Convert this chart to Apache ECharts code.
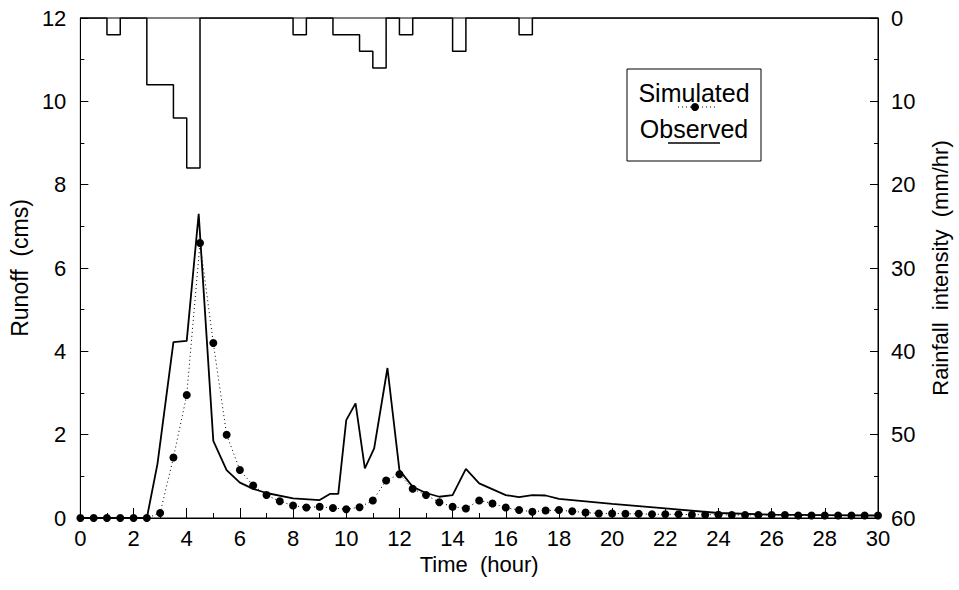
<!DOCTYPE html>
<html>
<head>
<meta charset="utf-8">
<script src="https://cdn.jsdelivr.net/npm/echarts@6/dist/echarts.min.js"></script>
<style>
html,body{margin:0;padding:0;background:#fff;}
#chart{width:959px;height:590px;}
</style>
</head>
<body>
<div id="chart"></div>
<script>
// ---- data ----
var xTicks = [0,2,4,6,8,10,12,14,16,18,20,22,24,26,28,30];
var runoffTicks = [0,2,4,6,8,10,12];
var rainTicks = [0,10,20,30,40,50,60];

// simulated runoff, every 0.5 h
var simTime = [0,0.5,1,1.5,2,2.5,3,3.5,4,4.5,5,5.5,6,6.5,7,7.5,8,8.5,9,9.5,10,10.5,11,11.5,12,12.5,13,13.5,14,14.5,15,15.5,16,16.5,17,17.5,18,18.5,19,19.5,20,20.5,21,21.5,22,22.5,23,23.5,24,24.5,25,25.5,26,26.5,27,27.5,28,28.5,29,29.5,30];
var simRunoff = [0,0,0,0,0,0,0.12,1.45,2.95,6.6,4.2,2.0,1.15,0.78,0.55,0.4,0.3,0.25,0.27,0.24,0.21,0.26,0.42,0.9,1.05,0.7,0.55,0.38,0.27,0.23,0.42,0.35,0.25,0.19,0.15,0.18,0.19,0.16,0.13,0.11,0.11,0.1,0.1,0.09,0.09,0.09,0.08,0.08,0.08,0.07,0.07,0.07,0.07,0.07,0.06,0.06,0.06,0.06,0.06,0.06,0.06];

// observed runoff
var obsTime = [0,2.5,2.9,3.5,4.0,4.45,5.0,5.5,6.0,6.5,7.0,8.0,9.0,9.4,9.7,10.0,10.35,10.7,11.05,11.55,12.0,12.5,13.0,13.5,14.0,14.5,15.0,16.0,16.5,17.0,17.5,18.0,19.0,20.0,22.0,24.0,26.0,28.0,30.0];
var obsRunoff = [0,0,1.3,4.22,4.25,7.3,1.85,1.15,0.85,0.7,0.6,0.47,0.43,0.58,0.58,2.35,2.75,1.19,1.67,3.6,1.15,0.75,0.6,0.51,0.55,1.18,0.83,0.55,0.5,0.55,0.54,0.46,0.4,0.34,0.23,0.12,0.08,0.07,0.06];

// rainfall intensity (mm/hr), each value holds from its start time for 0.5 h
var rainTime = [0,0.5,1,1.5,2,2.5,3,3.5,4,4.5,5,5.5,6,6.5,7,7.5,8,8.5,9,9.5,10,10.5,11,11.5,12,12.5,13,13.5,14,14.5,15,15.5,16,16.5,17,17.5,18,18.5,19,19.5,20,20.5,21,21.5,22,22.5,23,23.5,24,24.5,25,25.5,26,26.5,27,27.5,28,28.5,29,29.5,30];
var rainfall = [0,0,2,0,0,8,8,12,18,0,0,0,0,0,0,0,2,0,0,2,2,4,6,0,2,0,0,0,4,0,0,0,0,2,0,0,0,0,0,0,0,0,0,0,0,0,0,0,0,0,0,0,0,0,0,0,0,0,0,0,0];

var FONT = 'Liberation Sans, Arial, sans-serif';

function pairs(xs, ys){ return xs.map(function(x,i){ return [x, ys[i]]; }); }

var chart = echarts.init(document.getElementById('chart'), null, {renderer:'svg'});
chart.setOption({
  animation:false,
  backgroundColor:'#fff',
  grid:{left:78,right:81,top:18,bottom:72,show:true,borderColor:'#000',borderWidth:1,backgroundColor:'transparent'},
  xAxis:{
    type:'value',min:0,max:30,interval:2,
    name:'Time  (hour)',nameLocation:'middle',nameGap:33,
    nameTextStyle:{fontFamily:FONT,fontSize:22,color:'#000'},
    axisLine:{lineStyle:{color:'#000',width:1}},
    axisTick:{inside:true,length:10,lineStyle:{color:'#000'}},
    minorTick:{show:true,splitNumber:2,length:5,lineStyle:{color:'#000'}},
    splitLine:{show:false},
    axisLabel:{fontFamily:FONT,fontSize:22,color:'#000',margin:9,
      customValues:xTicks}
  },
  yAxis:[{
    type:'value',min:0,max:12,interval:2,position:'left',
    name:'Runoff  (cms)',nameLocation:'middle',nameGap:46,nameRotate:90,
    nameTextStyle:{fontFamily:FONT,fontSize:23,color:'#000'},
    axisLine:{show:true,lineStyle:{color:'#000',width:1}},
    axisTick:{show:true,inside:true,length:8,lineStyle:{color:'#000'}},
    minorTick:{show:true,splitNumber:2,length:4,lineStyle:{color:'#000'}},
    splitLine:{show:false},
    axisLabel:{fontFamily:FONT,fontSize:22,color:'#000',margin:14,customValues:runoffTicks}
  },{
    type:'value',min:0,max:60,interval:10,inverse:true,position:'right',
    name:'Rainfall  intensity  (mm/hr)',nameLocation:'middle',nameGap:51,nameRotate:90,
    nameTextStyle:{fontFamily:FONT,fontSize:22,color:'#000'},
    axisLine:{show:true,lineStyle:{color:'#000',width:1}},
    axisTick:{show:true,inside:true,length:8,lineStyle:{color:'#000'}},
    minorTick:{show:true,splitNumber:2,length:4,lineStyle:{color:'#000'}},
    splitLine:{show:false},
    axisLabel:{fontFamily:FONT,fontSize:22,color:'#000',margin:13,customValues:rainTicks}
  }],
  series:[{
    name:'Rainfall',type:'line',yAxisIndex:1,step:'end',
    data:pairs(rainTime,rainfall),showSymbol:false,symbol:'none',
    lineStyle:{color:'#000',width:1.5},z:3
  },{
    name:'Observed',type:'line',yAxisIndex:0,
    data:pairs(obsTime,obsRunoff),showSymbol:false,symbol:'none',
    lineStyle:{color:'#000',width:1.8},z:4
  },{
    name:'Simulated',type:'line',yAxisIndex:0,
    data:pairs(simTime,simRunoff),symbol:'circle',symbolSize:8,showSymbol:true,
    itemStyle:{color:'#000'},
    lineStyle:{color:'#000',width:1,type:[1,3]},z:5
  }],
  graphic:[
    {type:'rect',shape:{x:627,y:69,width:134,height:92},style:{fill:'#fff',stroke:'#000',lineWidth:1},z:10},
    {type:'text',x:694,y:93,style:{text:'Simulated',fontFamily:FONT,fontSize:25,fill:'#000',align:'center',verticalAlign:'middle'},z:11},
    {type:'line',shape:{x1:678,y1:107,x2:717,y2:107},style:{stroke:'#000',lineWidth:1,lineDash:[1,3]},z:11},
    {type:'circle',shape:{cx:695,cy:107,r:4},style:{fill:'#000'},z:11},
    {type:'text',x:694,y:129,style:{text:'Observed',fontFamily:FONT,fontSize:25,fill:'#000',align:'center',verticalAlign:'middle'},z:11},
    {type:'line',shape:{x1:668,y1:143,x2:720,y2:143},style:{stroke:'#000',lineWidth:1.5},z:11}
  ]
});
</script>
</body>
</html>
